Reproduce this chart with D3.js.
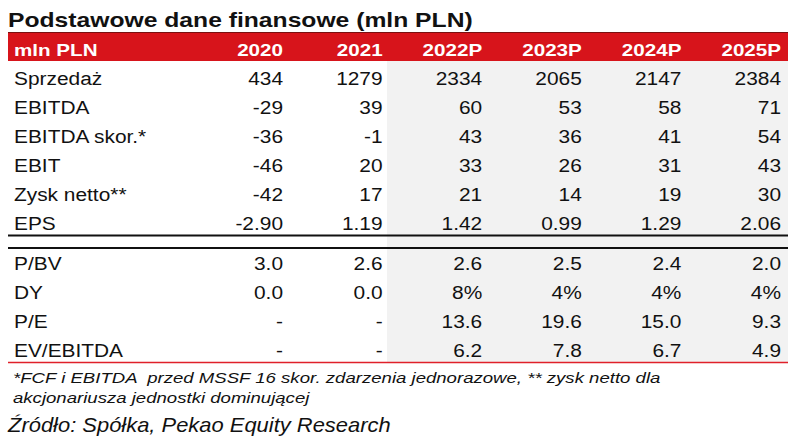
<!DOCTYPE html>
<html><head><meta charset="utf-8">
<script src="https://cdn.jsdelivr.net/npm/d3@7"></script>
<style>html,body{margin:0;padding:0;background:#fff;}svg{display:block;}text{white-space:pre;}</style>
</head><body>
<svg id="chart" width="800" height="445"></svg>
<script>
// ---- data ----
const title = "Podstawowe dane finansowe (mln PLN)";
const headerLabel = "mln PLN";
const years = ["2020", "2021", "2022P", "2023P", "2024P", "2025P"];
const topRowLabels = ["Sprzedaż", "EBITDA", "EBITDA skor.*", "EBIT", "Zysk netto**", "EPS"];
const sprzedaz   = [434, 1279, 2334, 2065, 2147, 2384];
const ebitda     = [-29, 39, 60, 53, 58, 71];
const ebitdaSkor = [-36, -1, 43, 36, 41, 54];
const ebit       = [-46, 20, 33, 26, 31, 43];
const zyskNetto  = [-42, 17, 21, 14, 19, 30];
const eps        = [-2.90, 1.19, 1.42, 0.99, 1.29, 2.06];
const bottomRowLabels = ["P/BV", "DY", "P/E", "EV/EBITDA"];
const pbv        = [3.0, 2.6, 2.6, 2.5, 2.4, 2.0];
const dy         = ["0.0", "0.0", "8%", "4%", "4%", "4%"];
const pe         = [null, null, 13.6, 19.6, 15.0, 9.3];
const evEbitda   = [null, null, 6.2, 7.8, 6.7, 4.9];
const footnote1 = "*FCF i EBITDA  przed MSSF 16 skor. zdarzenia jednorazowe, ** zysk netto dla";
const footnote2 = "akcjonariusza jednostki dominującej";
const source = "Źródło: Spółka, Pekao Equity Research";

// ---- formatting ----
const fInt = v => v == null ? "-" : String(Math.round(v));
const f2 = v => v == null ? "-" : v.toFixed(2);
const f1 = v => v == null ? "-" : v.toFixed(1);
const fStr = v => v == null ? "-" : v;

const topRows = [
  {label: topRowLabels[0], values: sprzedaz, fmt: fInt},
  {label: topRowLabels[1], values: ebitda, fmt: fInt},
  {label: topRowLabels[2], values: ebitdaSkor, fmt: fInt},
  {label: topRowLabels[3], values: ebit, fmt: fInt},
  {label: topRowLabels[4], values: zyskNetto, fmt: fInt},
  {label: topRowLabels[5], values: eps, fmt: f2}
];
const bottomRows = [
  {label: bottomRowLabels[0], values: pbv, fmt: f1},
  {label: bottomRowLabels[1], values: dy, fmt: fStr},
  {label: bottomRowLabels[2], values: pe, fmt: f1},
  {label: bottomRowLabels[3], values: evEbitda, fmt: f1}
];

// ---- layout ----
const svg = d3.select("#chart");
const FONT = "Arial, 'Liberation Sans', sans-serif";
const left = 8, right = 788;
const sx = 1.16; // horizontal stretch of glyphs

const x = d3.scalePoint().domain(years).range([283, 781]);
const yTop = d3.scalePoint().domain(topRowLabels).range([85, 230]);
const yBot = d3.scalePoint().domain(bottomRowLabels).range([270, 357]);

function txt(g, s, tx, ty, opts) {
  return g.append("text")
    .attr("transform", `translate(${tx},${ty}) scale(${opts.sx || sx},1)`)
    .attr("text-anchor", opts.anchor || "start")
    .attr("font-family", FONT)
    .attr("font-size", opts.size)
    .attr("font-weight", opts.weight || "normal")
    .attr("font-style", opts.style || "normal")
    .attr("fill", opts.fill || "#111")
    .attr("xml:space", "preserve")
    .text(s);
}

// forecast background
svg.append("rect").attr("x", 387).attr("y", 61).attr("width", right - 387).attr("height", 301)
  .attr("fill", "#f2f2f2");

// title
txt(svg, title, left, 27, {size: 21, weight: "bold", sx: 1.175});

// header bar
svg.append("rect").attr("x", left).attr("y", 32).attr("width", right - left).attr("height", 29)
  .attr("fill", "#d7141b");
svg.append("line").attr("x1", left).attr("x2", right).attr("y1", 32.5).attr("y2", 32.5)
  .attr("stroke", "#7a1010").attr("stroke-width", 1);
const hdr = svg.append("g");
txt(hdr, headerLabel, 14, 56, {size: 16.5, weight: "bold", fill: "#fff", sx: 1.25});
years.forEach(yr => txt(hdr, yr, x(yr), 56, {size: 16.5, weight: "bold", fill: "#fff", anchor: "end", sx: 1.25}));

// rows
function drawRows(rows, yScale) {
  rows.forEach(r => {
    const yy = yScale(r.label);
    txt(svg, r.label, 14, yy, {size: 18});
    years.forEach((yr, i) => txt(svg, r.fmt(r.values[i]), x(yr), yy, {size: 18, anchor: "end"}));
  });
}
drawRows(topRows, yTop);
drawRows(bottomRows, yBot);

// double separator
[235.5, 248].forEach(yy => svg.append("line").attr("x1", left).attr("x2", right)
  .attr("y1", yy).attr("y2", yy).attr("stroke", "#111").attr("stroke-width", 2));

// bottom red line
svg.append("line").attr("x1", left).attr("x2", right).attr("y1", 362.5).attr("y2", 362.5)
  .attr("stroke", "#e0202a").attr("stroke-width", 1.5);

// footnotes
txt(svg, footnote1, 13, 383, {size: 15, style: "italic", sx: 1.24});
txt(svg, footnote2, 13, 403, {size: 15, style: "italic", sx: 1.24});
txt(svg, source, 8, 432, {size: 20.5, style: "italic", sx: 1.07});
</script>
</body></html>
